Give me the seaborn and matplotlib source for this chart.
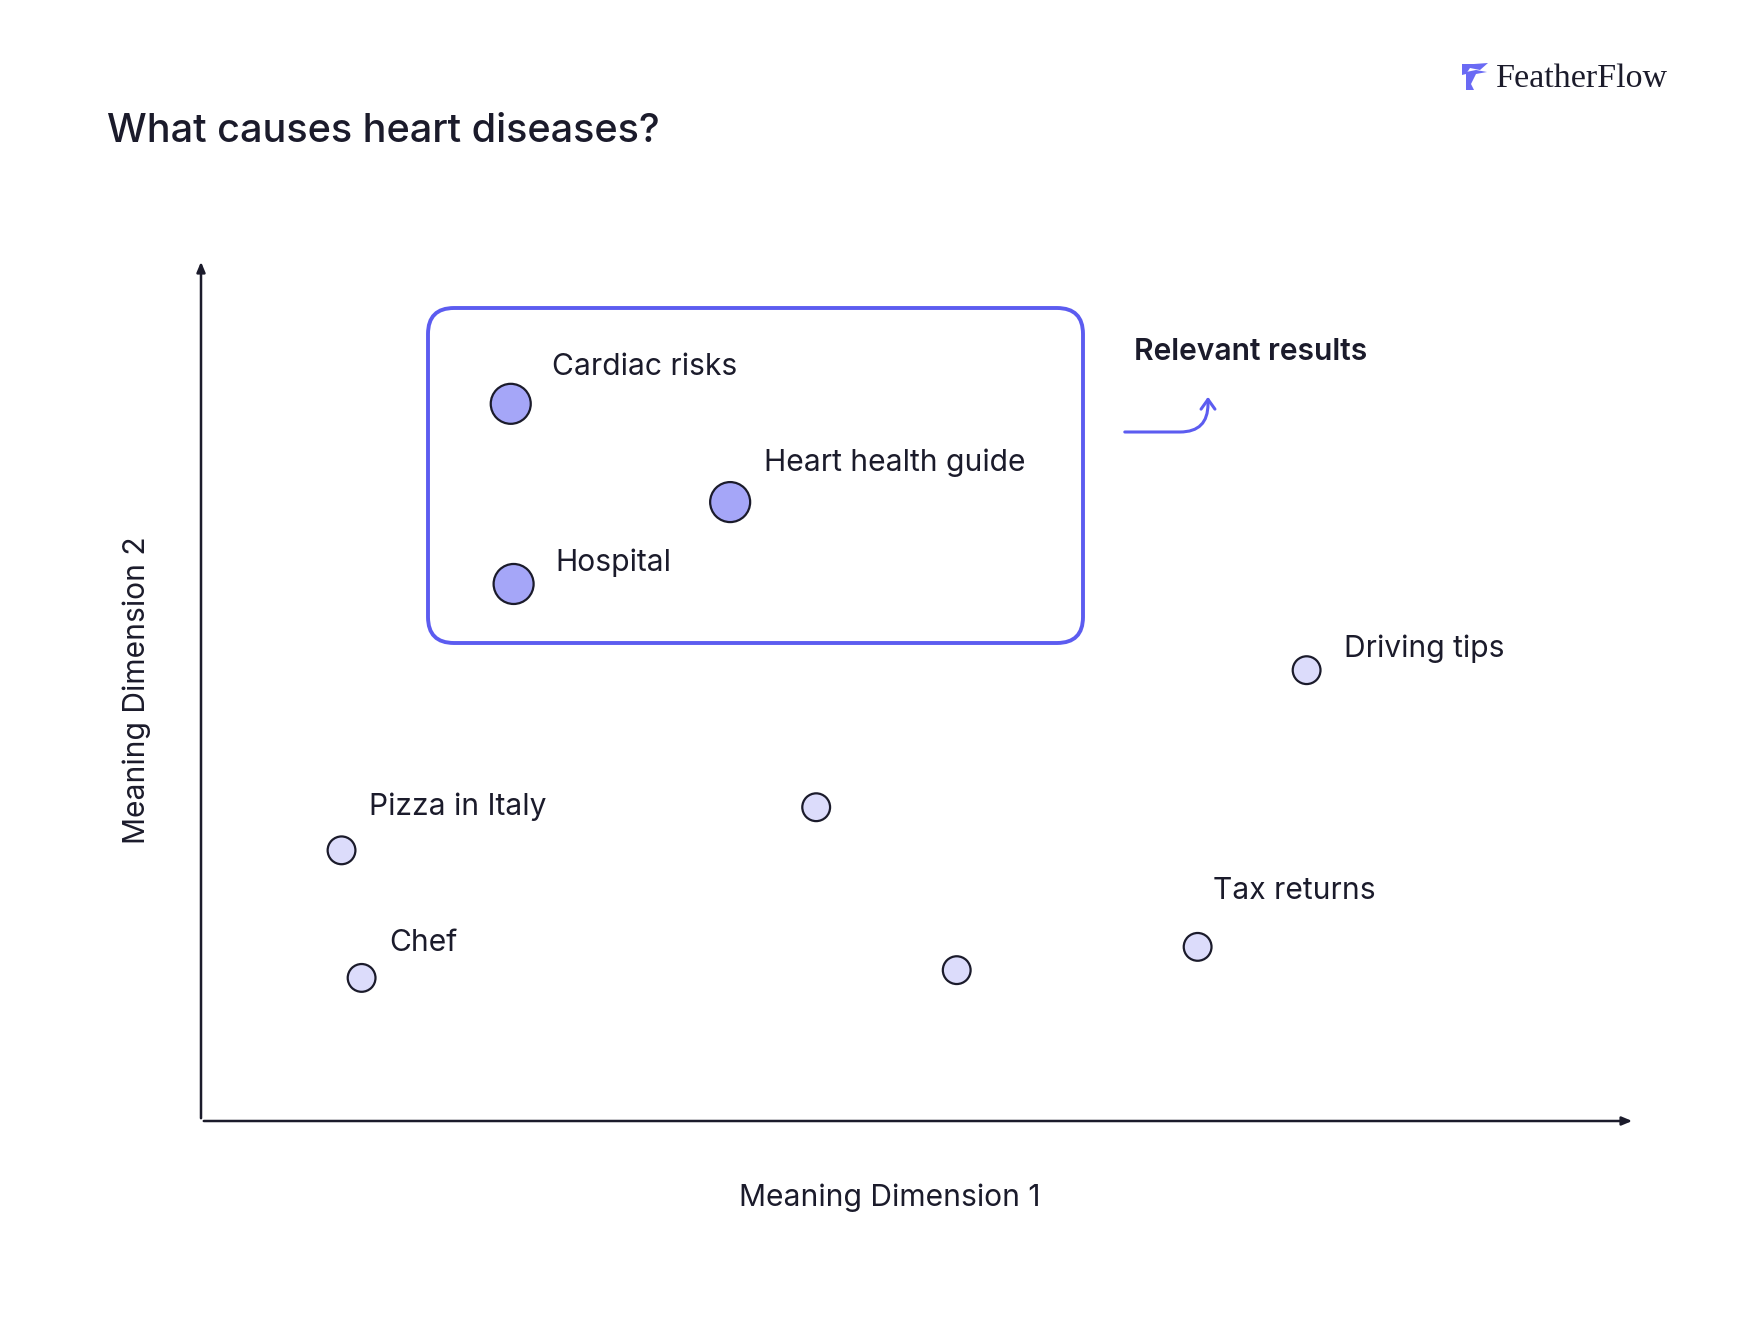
import matplotlib
matplotlib.use("Agg")
import matplotlib.pyplot as plt
from matplotlib.patches import FancyBboxPatch, FancyArrowPatch, PathPatch
from matplotlib.path import Path
from matplotlib.transforms import IdentityTransform
import seaborn as sns
import pandas as pd

# points (axis units 0-100)
names = ["Cardiac risks", "Heart health guide", "Hospital", "Driving tips", "",
         "Pizza in Italy", "Chef", "", "Tax returns"]
dim1 = [21.6, 36.9, 21.8, 77.1, 42.9, 9.8, 11.2, 52.7, 69.5]
dim2 = [83.2, 71.8, 62.3, 52.3, 36.4, 31.4, 16.6, 17.5, 20.2]
group = ["relevant", "relevant", "relevant", "other", "other",
         "other", "other", "other", "other"]

# label offsets in px (dx, dy from point centre), just layout
label_off = [(41, 37), (34, 39), (42, 21), (37, 21), None,
             (27, 44), (28, 35), None, (15, 56)]

INK = "#1b1b2b"
BLUE = "#5c5cf0"
colors = {"relevant": "#a5a6f8", "other": "#dcdcfb"}
sizes = {"relevant": 830, "other": 400}

df = pd.DataFrame({"name": names, "x": dim1, "y": dim2, "group": group})

sns.set_style("white")
plt.rcParams["font.family"] = ["Inter", "DejaVu Sans"]

W, H = 1742, 1318
fig = plt.figure(figsize=(W / 100, H / 100), dpi=100)
ax = fig.add_axes([201 / W, 1 - 1121 / H, (1635 - 201) / W, (1121 - 259) / H])
ax.set_xlim(0, 100)
ax.set_ylim(0, 100)

sns.scatterplot(data=df, x="x", y="y", hue="group", size="group",
                palette=colors, sizes=sizes, edgecolor=INK, linewidth=1.6,
                legend=False, ax=ax, zorder=3)

for sp in ax.spines.values():
    sp.set_visible(False)
ax.set_xticks([])
ax.set_yticks([])
ax.set_xlabel("")
ax.set_ylabel("")

# axes drawn as arrows
arrow_kw = dict(arrowstyle="-|>,head_length=0.6,head_width=0.25", color=INK, lw=1.8)
ax.annotate("", xy=(1, 0), xytext=(0, 0), xycoords="axes fraction",
            arrowprops=arrow_kw, annotation_clip=False)
ax.annotate("", xy=(0, 1), xytext=(0, 0), xycoords="axes fraction",
            arrowprops=arrow_kw, annotation_clip=False)

LBL = 21.6

# point labels
for i, name in enumerate(names):
    if not name:
        continue
    dx, dy = label_off[i]
    ax.annotate(name, (dim1[i], dim2[i]), xytext=(dx * 0.72, dy * 0.72),
                textcoords="offset points", ha="left", va="center",
                fontsize=LBL, color=INK)

fig.text(890 / W, 1 - 1198 / H, "Meaning Dimension 1", fontsize=LBL,
         color=INK, ha="center", va="center")
ax.set_ylabel("Meaning Dimension 2", fontsize=LBL, color=INK, labelpad=36)

# rounded box around relevant results (pixel coords, y from bottom)
box = FancyBboxPatch((428, H - 643), 1083 - 428, 643 - 308,
                     boxstyle="round,pad=0,rounding_size=26",
                     fill=False, edgecolor=BLUE, lw=2.8,
                     transform=IdentityTransform())
fig.patches.append(box)

fig.text(1134 / W, 1 - 352 / H, "Relevant results", fontsize=LBL,
         fontweight="semibold", color=INK, ha="left", va="center")

curve = FancyArrowPatch((1122, H - 432), (1208, H - 394),
                        connectionstyle="angle,angleA=0,angleB=90,rad=28",
                        arrowstyle="->,head_length=7,head_width=5",
                        color=BLUE, lw=2.2, transform=IdentityTransform())
fig.patches.append(curve)

# title and logo
fig.text(107 / W, 1 - 132 / H, "What causes heart diseases?", fontsize=28.5,
         fontweight="medium", color=INK, ha="left", va="center")
fig.text(1496 / W, 1 - 79 / H, "FeatherFlow", fontsize=24.5,
         family="Liberation Serif", color=INK, ha="left", va="center")

# feather mark
v1 = [(1462, H - 75), (1462, H - 64), (1474, H - 64), (1488, H - 63),
      (1480, H - 70), (1470, H - 68), (1466, H - 74), (1462, H - 75)]
v2 = [(1466, H - 80), (1466, H - 90), (1474, H - 90), (1474, H - 90),
      (1471, H - 84), (1476, H - 74), (1487, H - 72), (1476, H - 70),
      (1466, H - 72), (1466, H - 80)]
for verts in (v1, v2):
    codes = [Path.MOVETO] + [Path.LINETO] * (len(verts) - 2) + [Path.CLOSEPOLY]
    fig.patches.append(PathPatch(Path(verts, codes), facecolor="#6a6af4",
                                 edgecolor="none", transform=IdentityTransform()))

fig.savefig("out.png", dpi=100, facecolor="white")
